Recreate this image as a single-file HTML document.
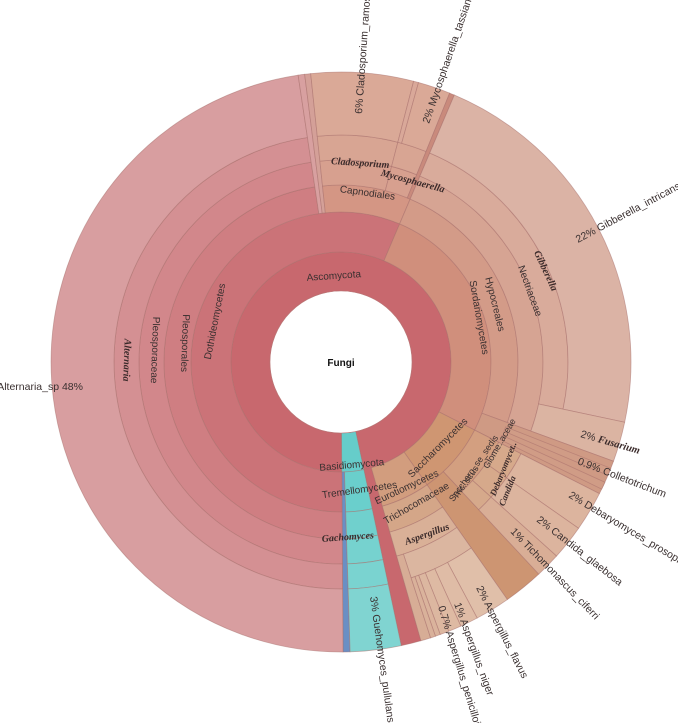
<!DOCTYPE html>
<html><head><meta charset="utf-8"><style>
html,body{margin:0;padding:0;background:#fff;}
svg{display:block}
text{font-family:"Liberation Sans","DejaVu Sans",sans-serif;fill:#3a3030;font-size:10px}
.i{font-family:"Liberation Serif",serif;font-style:italic;font-weight:bold;fill:#3a2a2a}
.s{font-size:10.5px}
</style></head><body>
<svg id="s" width="678" height="723" viewBox="0 0 678 723">
<g id="w"></g>
<circle cx="341" cy="362" r="71" fill="#fff" stroke="#b77" stroke-width="0.6"/>
<text x="341" y="366" text-anchor="middle" style="font-weight:bold;font-size:10px;fill:#111">Fungi</text>

<text transform="translate(334,279) rotate(-4)" text-anchor="middle">Ascomycota</text>
<text transform="translate(352,468) rotate(-5)" text-anchor="middle">Basidiomycota</text>
<text transform="translate(360,493) rotate(-8)" text-anchor="middle">Tremellomycetes</text>
<text transform="translate(408,490) rotate(-25)" text-anchor="middle">Eurotiomycetes</text>
<text transform="translate(418,506) rotate(-30)" text-anchor="middle">Trichocomaceae</text>
<text transform="translate(440,450) rotate(-45)" text-anchor="middle">Saccharomycetes</text>
<text transform="translate(476,470) rotate(-55)" text-anchor="middle" style="font-size:9px">Saccharo..se_sedis</text>
<text transform="translate(468,484) rotate(-55)" text-anchor="middle" style="font-size:9px">Tric..scus</text>
<text transform="translate(502,445) rotate(-60)" text-anchor="middle" style="font-size:9px">Glome..aceae</text>
<text transform="translate(506,470) rotate(-68)" text-anchor="middle" class="i" style="font-size:9px">Debaryomycet..</text>
<text transform="translate(510,492) rotate(-68)" text-anchor="middle" class="i" style="font-size:9px">Candida</text>
<text transform="translate(348,540) rotate(-4)" text-anchor="middle" class="i">Gachomyces</text>
<text transform="translate(428,537) rotate(-20)" text-anchor="middle" class="i">Aspergillus</text>
<text transform="translate(476,318) rotate(80)" text-anchor="middle">Sordariomycetes</text>
<text transform="translate(492,305) rotate(76)" text-anchor="middle">Hypocreales</text>
<text transform="translate(527,292) rotate(70)" text-anchor="middle">Nectriaceae</text>
<text transform="translate(543,272) rotate(65)" text-anchor="middle" class="i">Gibberella</text>
<text transform="translate(367,196) rotate(8)" text-anchor="middle">Capnodiales</text>
<text transform="translate(360,166) rotate(4)" text-anchor="middle" class="i">Cladosporium</text>
<text transform="translate(412,184) rotate(15)" text-anchor="middle" class="i">Mycosphaerella</text>
<text transform="translate(182,343) rotate(92)" text-anchor="middle">Pleosporales</text>
<text transform="translate(152,350) rotate(92)" text-anchor="middle">Pleosporaceae</text>
<text transform="translate(124,360) rotate(92)" text-anchor="middle" class="i">Alternaria</text>
<text transform="translate(218,322) rotate(-79)" text-anchor="middle">Dothideomycetes</text>

<text x="83" y="390" text-anchor="end" class="s">Alternaria_sp  48%</text>
<text transform="translate(362,114) rotate(-86)" class="s">6%  Cladosporium_ramos</text>
<text transform="translate(429,124) rotate(-71)" class="s">2%  Mycosphaerella_tassiana</text>
<text transform="translate(578,243) rotate(-28)" class="s">22%  Gibberella_intricans</text>
<text transform="translate(580,437) rotate(16)" class="s">2%  <tspan class="i">Fusarium</tspan></text>
<text transform="translate(577,464) rotate(21)" class="s">0.9%  Colletotrichum</text>
<text transform="translate(568,497) rotate(31)" class="s">2%  Debaryomyces_prosopidis</text>
<text transform="translate(536,521) rotate(38)" class="s">2%  Candida_glaebosa</text>
<text transform="translate(510,532) rotate(46)" class="s">1%  Tichomonascus_ciferri</text>
<text transform="translate(476,588) rotate(63)" class="s">2%  Aspergillus_flavus</text>
<text transform="translate(454,604) rotate(70)" class="s">1%  Aspergillus_niger</text>
<text transform="translate(438,607) rotate(73)" class="s">0.7%  Aspergillus_penicilloides</text>
<text transform="translate(370,597) rotate(82)" class="s">3%  Guehomyces_pullulans</text>
</svg>
<script>
var cx=341,cy=362,R=[71,110,150,177,202,227,290];
function p(r,a){a=a*Math.PI/180;return (cx+r*Math.sin(a)).toFixed(2)+","+(cy-r*Math.cos(a)).toFixed(2);}
function w(l0,l1,a0,a1,c){
 var r0=R[l0],r1=R[l1],lg=(a1-a0)>180?1:0;
 return '<path d="M'+p(r1,a0)+' A'+r1+','+r1+' 0 '+lg+' 1 '+p(r1,a1)+' L'+p(r0,a1)+' A'+r0+','+r0+' 0 '+lg+' 0 '+p(r0,a0)+' Z" fill="'+c+'" stroke="#a8706c" stroke-opacity="0.55" stroke-width="0.8"/>';
}
var D=[
[0,1,179.6,528,'#c8686e'],[0,1,168,179.6,'#66cdca'],
[1,6,164,168,'#c8686e'],[1,6,178.2,179.6,'#6a8fc4'],
[1,2,168,178.2,'#6acfcc'],[2,3,168,178.2,'#70d0cd'],[3,4,168,178.2,'#76d2cf'],[4,5,168,178.2,'#7ad3d0'],[5,6,168,178.2,'#80d4d1'],
[1,2,179.6,383,'#cb7378'],[2,3,179.6,351.5,'#cf7e82'],[3,4,179.6,351.5,'#d2878b'],[4,5,179.6,351.5,'#d49093'],[5,6,179.6,351.5,'#d89ea0'],
[2,6,351.5,352.8,'#d8a0a0'],[2,6,352.8,354,'#d4a098'],
[2,3,354,383,'#d49684'],[3,4,354,374.5,'#d7a08f'],[4,5,354,374.5,'#d8a593'],[5,6,354,374.5,'#daa997'],
[3,4,374.5,382,'#d7a08f'],[4,5,374.5,382,'#d8a593'],[5,6,374.5,375.5,'#d9a899'],[5,6,375.5,382,'#daa997'],[3,6,382,383,'#c98a7c'],
[1,2,23,117,'#d08f7c'],[2,3,23,110,'#d39b88'],[3,4,23,110,'#d6a493'],[4,5,23,102,'#d9ab9b'],[5,6,23,102,'#dbb3a5'],
[4,6,102,110,'#dbb4a2'],
[2,6,110,117,'#cf9a84'],[3,6,111.5,113,'#d09c86'],[3,6,114.5,116,'#d09c86'],
[1,2,117,145,'#cf9672'],[2,3,117,137,'#d39f80'],[2,6,137,145,'#cd9572'],
[3,4,117,125,'#d6a98b'],[4,6,117,125,'#dcb49e'],[3,4,125,132,'#d6a98b'],[4,6,125,132,'#dcb49e'],[3,4,132,137,'#d6a98b'],[4,6,132,137,'#d9ae96'],
[1,2,145,164,'#d29d7e'],[2,3,145,164,'#d4a688'],[3,4,145,164,'#d9b097'],[4,5,145,162,'#dbb6a0'],[4,6,162,164,'#d7ad96'],
[5,6,145,152,'#e0bfa9'],[5,6,152,155.6,'#dfbca6'],[5,6,155.6,158.2,'#debaa3'],[5,6,158.2,160,'#dcb7a0'],[5,6,160,161,'#dab39c'],[5,6,161,162,'#d9b19a']
];
var h='';D.forEach(function(d){h+=w.apply(null,d);});
document.getElementById('w').innerHTML=h;
</script>
</body></html>
